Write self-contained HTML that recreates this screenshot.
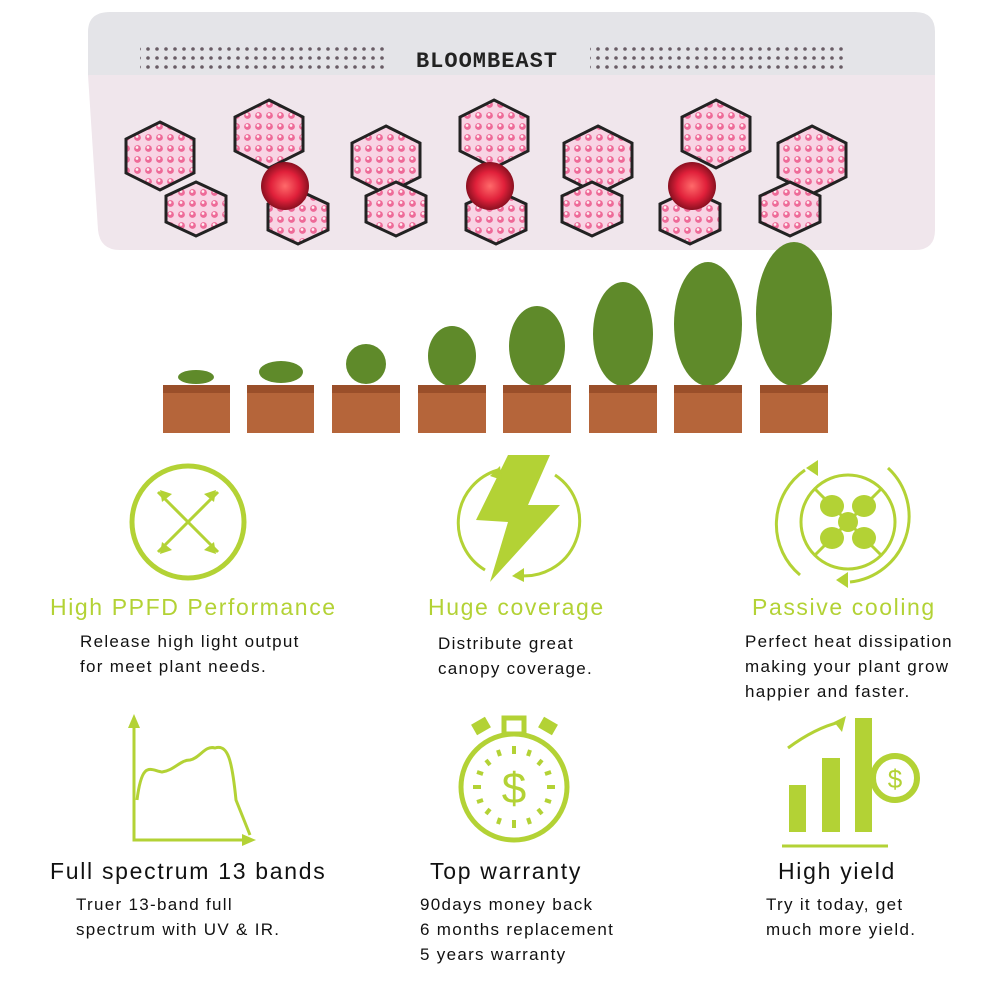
<!DOCTYPE html>
<html><head><meta charset="utf-8"><style>
html,body{margin:0;padding:0;background:#fff;}
body{width:1000px;height:1000px;position:relative;overflow:hidden;font-family:"Liberation Sans","DejaVu Sans",sans-serif;}
.t{position:absolute;white-space:nowrap;}
.g{color:#b3d235;font-size:23px;letter-spacing:1.6px;}
.b{color:#111;font-size:23px;letter-spacing:1.7px;}
.d{color:#111;font-size:17px;line-height:25px;letter-spacing:1.3px;}
</style></head><body>
<svg width="1000" height="1000" style="position:absolute;left:0;top:0">
<defs>
<radialGradient id="cob" cx="50%" cy="50%" r="50%"><stop offset="0" stop-color="#ff6a6a"/><stop offset="0.6" stop-color="#e0203a"/><stop offset="1" stop-color="#8a1020"/></radialGradient>
<pattern id="dots" width="9" height="9" patternUnits="userSpaceOnUse"><circle cx="4" cy="4" r="1.8" fill="#4a3a44"/></pattern>
<pattern id="leds" width="11" height="11" patternUnits="userSpaceOnUse"><rect width="11" height="11" fill="#f8d4e4"/><circle cx="5.5" cy="5.5" r="3.4" fill="#ee6a98"/><circle cx="5" cy="4.5" r="1.4" fill="#fff0f4"/></pattern>
</defs>
<path d="M110,12 H915 Q935,12 935,32 V75 H88 V32 Q88,12 110,12Z" fill="#e4e4e8"/>
<path d="M88,75 H935 V230 Q935,250 915,250 H120 Q100,250 98,230 Z" fill="#f0e6ec"/>
<rect x="140" y="45" width="245" height="28" fill="url(#dots)" opacity="0.8"/>
<rect x="590" y="45" width="255" height="28" fill="url(#dots)" opacity="0.8"/>
<text x="487" y="67" text-anchor="middle" font-family="Liberation Mono,monospace" font-weight="bold" font-size="22" fill="#222" letter-spacing="1">BLOOMBEAST</text>
<g stroke="#222" stroke-width="3" fill="url(#leds)">
<polygon points="160,122 194,139 194,173 160,190 126,173 126,139"/>
<polygon points="269,100 303,117 303,151 269,168 235,151 235,117"/>
<polygon points="386,126 420,143 420,177 386,194 352,177 352,143"/>
<polygon points="494,100 528,117 528,151 494,168 460,151 460,117"/>
<polygon points="598,126 632,143 632,177 598,194 564,177 564,143"/>
<polygon points="716,100 750,117 750,151 716,168 682,151 682,117"/>
<polygon points="812,126 846,143 846,177 812,194 778,177 778,143"/>
<polygon points="196,182 226,196 226,222 196,236 166,222 166,196"/>
<polygon points="298,196 328,210 328,236 298,250 268,236 268,210" transform="translate(0,-6)"/>
<polygon points="396,182 426,196 426,222 396,236 366,222 366,196"/>
<polygon points="496,196 526,210 526,236 496,250 466,236 466,210" transform="translate(0,-6)"/>
<polygon points="592,182 622,196 622,222 592,236 562,222 562,196"/>
<polygon points="690,196 720,210 720,236 690,250 660,236 660,210" transform="translate(0,-6)"/>
<polygon points="790,182 820,196 820,222 790,236 760,222 760,196"/>
</g>
<circle cx="285" cy="186" r="24" fill="url(#cob)"/>
<circle cx="490" cy="186" r="24" fill="url(#cob)"/>
<circle cx="692" cy="186" r="24" fill="url(#cob)"/>
<g fill="#5f8a2a">
<ellipse cx="196" cy="377" rx="18" ry="7"/>
<ellipse cx="281" cy="372" rx="22" ry="11"/>
<ellipse cx="366" cy="364" rx="20" ry="20"/>
<ellipse cx="452" cy="356" rx="24" ry="30"/>
<ellipse cx="537" cy="346" rx="28" ry="40"/>
<ellipse cx="623" cy="334" rx="30" ry="52"/>
<ellipse cx="708" cy="324" rx="34" ry="62"/>
<ellipse cx="794" cy="314" rx="38" ry="72"/>
</g>
<g fill="#b5653a">
<rect x="163" y="385" width="67" height="48"/><rect x="247" y="385" width="67" height="48"/>
<rect x="332" y="385" width="68" height="48"/><rect x="418" y="385" width="68" height="48"/>
<rect x="503" y="385" width="68" height="48"/><rect x="589" y="385" width="68" height="48"/>
<rect x="674" y="385" width="68" height="48"/><rect x="760" y="385" width="68" height="48"/>
</g>
<g fill="#9a4f2a">
<rect x="163" y="385" width="67" height="8"/><rect x="247" y="385" width="67" height="8"/>
<rect x="332" y="385" width="68" height="8"/><rect x="418" y="385" width="68" height="8"/>
<rect x="503" y="385" width="68" height="8"/><rect x="589" y="385" width="68" height="8"/>
<rect x="674" y="385" width="68" height="8"/><rect x="760" y="385" width="68" height="8"/>
</g>
<g stroke="#b3d235" fill="none" stroke-width="3">
<circle cx="188" cy="522" r="56" stroke-width="5"/>
<line x1="158" y1="492" x2="218" y2="552"/><line x1="218" y1="492" x2="158" y2="552"/>
<path d="M498,470 A55,55 0 0 0 485,570"/><path d="M555,475 A55,55 0 0 1 515,575"/>
<circle cx="848" cy="522" r="47"/>
<path d="M805,470 A66,66 0 0 0 800,575"/><path d="M888,468 A66,66 0 0 1 850,582"/>
<line x1="815" y1="489" x2="881" y2="555"/><line x1="881" y1="489" x2="815" y2="555"/>
<circle cx="514" cy="787" r="53" stroke-width="5"/>
<rect x="504" y="718" width="20" height="16" stroke-width="5"/>
<g stroke-width="4"><line x1="514" y1="746" x2="514" y2="754"/><line x1="514" y1="820" x2="514" y2="828"/><line x1="473" y1="787" x2="481" y2="787"/><line x1="547" y1="787" x2="555" y2="787"/>
<line x1="486" y1="760" x2="490" y2="765"/><line x1="542" y1="760" x2="538" y2="765"/><line x1="486" y1="814" x2="490" y2="809"/><line x1="542" y1="814" x2="538" y2="809"/>
<line x1="498" y1="750" x2="500" y2="756"/><line x1="530" y1="750" x2="528" y2="756"/><line x1="498" y1="824" x2="500" y2="818"/><line x1="530" y1="824" x2="528" y2="818"/>
<line x1="477" y1="772" x2="483" y2="774"/><line x1="551" y1="772" x2="545" y2="774"/><line x1="477" y1="802" x2="483" y2="800"/><line x1="551" y1="802" x2="545" y2="800"/></g>
<path d="M134,718 V840 H252"/>
<path d="M137,800 C142,760 150,770 162,772 C175,770 180,760 190,760 C200,758 205,745 215,748 C228,744 232,760 236,800 L250,835"/>
<path d="M788,748 Q815,728 840,722"/>
<line x1="782" y1="846" x2="888" y2="846"/>
<circle cx="895" cy="778" r="22" stroke-width="6"/>
</g>
<g fill="#b3d235">
<polygon points="134,714 128,728 140,728"/><polygon points="256,840 242,834 242,846"/>
<polygon points="160,490 162,502 172,494"/><polygon points="216,490 204,494 214,502"/><polygon points="160,554 162,542 172,550"/><polygon points="216,554 204,550 214,542"/>
<polygon points="508,455 550,455 528,505 560,505 490,582 508,522 476,520"/>
<polygon points="500,466 490,476 502,480"/><polygon points="512,576 524,568 524,582"/>
<polygon points="818,460 806,468 818,476"/><polygon points="836,580 848,572 848,588"/>
<ellipse cx="832" cy="506" rx="12" ry="11"/><ellipse cx="864" cy="506" rx="12" ry="11"/><ellipse cx="832" cy="538" rx="12" ry="11"/><ellipse cx="864" cy="538" rx="12" ry="11"/><circle cx="848" cy="522" r="10"/>
<rect x="473" y="720" width="16" height="12" transform="rotate(-30 481 726)"/>
<rect x="540" y="720" width="16" height="12" transform="rotate(30 548 726)"/>
<polygon points="846,716 834,722 842,732"/>
<rect x="789" y="785" width="17" height="47"/><rect x="822" y="758" width="18" height="74"/><rect x="855" y="718" width="17" height="114"/>
</g>
<text x="514" y="803" text-anchor="middle" font-size="44" fill="#b3d235" font-family="Liberation Sans">$</text>
<text x="895" y="788" text-anchor="middle" font-size="26" fill="#b3d235" font-family="Liberation Sans">$</text>
</svg>
<div class="t g" style="left:50px;top:594px">High PPFD Performance</div>
<div class="t d" style="left:80px;top:629px">Release high light output<br>for meet plant needs.</div>
<div class="t g" style="left:428px;top:594px">Huge coverage</div>
<div class="t d" style="left:438px;top:631px">Distribute great<br>canopy coverage.</div>
<div class="t g" style="left:752px;top:594px">Passive cooling</div>
<div class="t d" style="left:745px;top:629px">Perfect heat dissipation<br>making your plant grow<br>happier and faster.</div>
<div class="t b" style="left:50px;top:858px">Full spectrum 13 bands</div>
<div class="t d" style="left:76px;top:892px">Truer 13-band full<br>spectrum with UV &amp; IR.</div>
<div class="t b" style="left:430px;top:858px">Top warranty</div>
<div class="t d" style="left:420px;top:892px">90days money back<br>6 months replacement<br>5 years warranty</div>
<div class="t b" style="left:778px;top:858px">High yield</div>
<div class="t d" style="left:766px;top:892px">Try it today, get<br>much more yield.</div>
</body></html>
